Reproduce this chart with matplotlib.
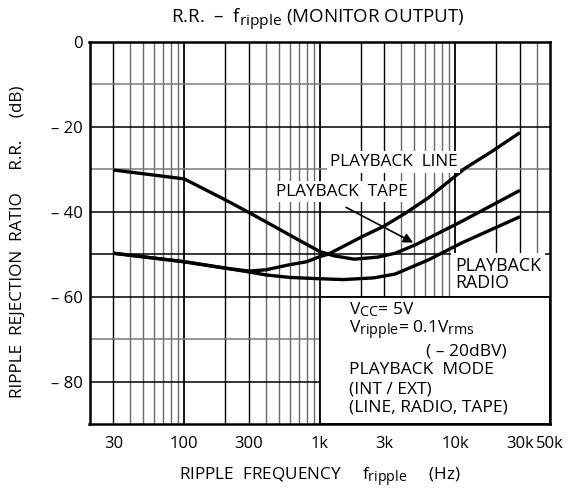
import numpy as np
import matplotlib
matplotlib.use('Agg')
import matplotlib.pyplot as plt
from matplotlib.patches import Rectangle
try:
    import matplotlib._mathtext as _mt
    _mt.SHRINK_FACTOR = 0.82
except Exception:
    pass

plt.rcParams['font.family'] = ['Open Sans', 'DejaVu Sans']
plt.rcParams['mathtext.fontset'] = 'custom'
plt.rcParams['mathtext.rm'] = 'Open Sans'
plt.rcParams['mathtext.it'] = 'Open Sans:italic'
plt.rcParams['mathtext.bf'] = 'Open Sans:bold'

# ---- data ----
freq_line = [30, 100, 200, 300, 400, 600, 800, 1000, 1160, 2050, 2950, 4270, 6300, 11800, 18500, 30000]
rr_line = [-49.8, -51.8, -53.3, -54.0, -53.7, -52.5, -51.8, -50.6, -50.0, -45.9, -43.5, -40.4, -36.8, -29.8, -25.9, -21.4]

freq_tape = [30, 100, 200, 300, 500, 700, 1000, 1270, 1800, 2700, 3600, 5100, 11000, 30000]
rr_tape = [-30.2, -32.3, -37.2, -40.2, -44.1, -46.7, -49.4, -50.4, -51.2, -50.7, -49.8, -47.8, -42.4, -35.0]

freq_radio = [30, 100, 200, 300, 400, 600, 1000, 1500, 2500, 3600, 6300, 11100, 30000]
rr_radio = [-49.8, -51.8, -53.3, -54.2, -54.9, -55.5, -55.8, -56.0, -55.6, -54.7, -51.4, -47.4, -41.2]

x_ticks = [30, 100, 300, 1000, 3000, 10000, 30000, 50000]
x_tick_labels = ['30', '100', '300', '1k', '3k', '10k', '30k', '50k']
y_ticks = [0, -20, -40, -60, -80]
y_tick_labels = ['0', '– 20', '– 40', '– 60', '– 80']

fig = plt.figure(figsize=(5.68, 4.96), dpi=100)
ax = fig.add_axes([89.5 / 568, 1 - 424 / 496, 460.5 / 568, 382.3 / 496])
ax.set_xscale('log')
ax.set_xlim(20, 50000)
ax.set_ylim(-90, 0)

# grid
for dec in [10, 100, 1000, 10000]:
    for m in range(1, 10):
        f = dec * m
        if f <= 20 or f >= 50000:
            continue
        col = 'black' if m in (1, 2, 3) else '#6a6a6a'
        lw = 1.3 if m == 1 else 1.0
        ax.axvline(f, color=col, lw=lw, zorder=1)
for yv in range(-80, 0, 10):
    col = 'black' if yv % 20 == 0 or yv == -50 else '#7a7a7a'
    ax.axhline(yv, color=col, lw=1.1, zorder=1)

# blank box for conditions
ax.add_patch(Rectangle((1000, -90), 50000 - 1000, 30, facecolor='white',
                       edgecolor='black', lw=1.3, zorder=2))

# curves
for fx, ry in [(freq_line, rr_line), (freq_tape, rr_tape), (freq_radio, rr_radio)]:
    ax.plot(fx, ry, color='black', lw=2.4, solid_capstyle='butt', zorder=3)

for s in ax.spines.values():
    s.set_linewidth(1.8)

ax.set_xticks(x_ticks)
ax.set_xticklabels(x_tick_labels)
ax.set_xticks([], minor=True)
ax.set_yticks(y_ticks)
ax.set_yticklabels(y_tick_labels)
ax.tick_params(length=0, labelsize=12)
ax.tick_params(axis='x', pad=9)
ax.tick_params(axis='y', pad=5)

bb = dict(facecolor='white', edgecolor='none', pad=2)
ax.text(1190, -28.3, 'PLAYBACK  LINE', fontsize=12.3, va='center', ha='left', bbox=bb, zorder=4)
ax.text(478, -35.3, 'PLAYBACK  TAPE', fontsize=12.3, va='center', ha='left', bbox=bb, zorder=4)
ax.text(10000, -54.8, 'PLAYBACK\nRADIO', fontsize=12.8, va='center', ha='left',
        linespacing=0.95, bbox=dict(facecolor='white', edgecolor='none', pad=3), zorder=4)
ax.annotate('', xy=(5100, -47.6), xytext=(1500, -38.7),
            arrowprops=dict(arrowstyle='-|>', color='black', lw=1.2, mutation_scale=14),
            zorder=5)

tk = dict(fontsize=12.5, va='center', ha='left', zorder=4)
ax.text(1640, -63.0, r'$\mathrm{V_{CC}}$= 5V', **tk)
ax.text(1640, -68.0, r'$\mathrm{V_{ripple}}$= 0.1$\mathrm{V_{rms}}$', **tk)
ax.text(6130, -72.9, '( – 20dBV)', **tk)
ax.text(1640, -77.4, 'PLAYBACK  MODE', **tk)
ax.text(1640, -81.8, '(INT / EXT)', **tk)
ax.text(1640, -86.0, '(LINE, RADIO, TAPE)', **tk)

fig.text(318 / 568, 1 - 19 / 496, r'R.R.  –  $\mathrm{f_{ripple}}$ (MONITOR OUTPUT)',
         fontsize=13.5, ha='center', va='center')
fig.text(320 / 568, 1 - 477 / 496, r'RIPPLE  FREQUENCY     $\mathrm{f_{ripple}}$     (Hz)',
         fontsize=12.3, ha='center', va='center')
fig.text(18 / 568, 1 - 242 / 496, 'RIPPLE  REJECTION  RATIO     R.R.     (dB)',
         fontsize=12.3, ha='center', va='center', rotation=90)

fig.savefig('out.png', dpi=100)
